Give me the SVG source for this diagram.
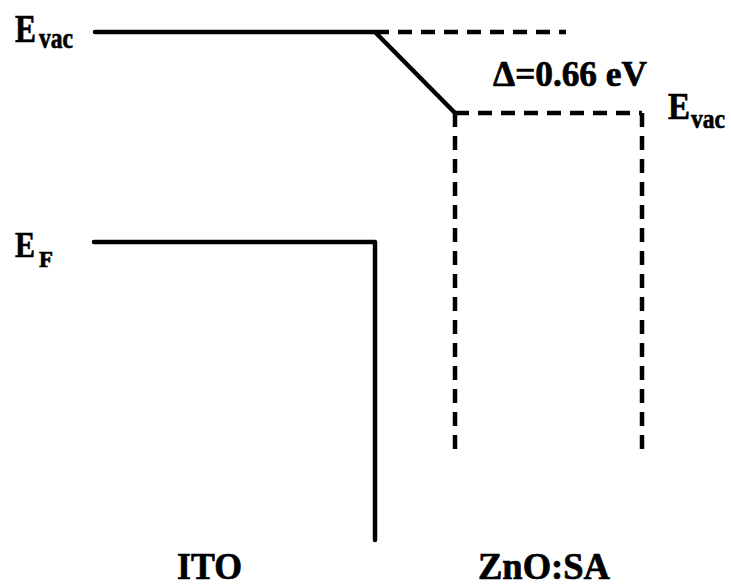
<svg xmlns="http://www.w3.org/2000/svg" width="731" height="588" viewBox="0 0 731 588">
<style>
.t{font-family:"Liberation Serif","Times New Roman",serif;font-weight:bold;fill:#000;stroke:#000;stroke-width:0.7}
.s{fill:none;stroke:#000;stroke-width:4.5;stroke-linecap:round;stroke-linejoin:round}
.d{fill:none;stroke:#000;stroke-width:4.5;stroke-dasharray:14 9}
</style>
<rect width="731" height="588" fill="#fff"/>
<g id="connectors">
<path class="s" d="M95,32 H375 L455,113"/>
<path class="d" d="M375,32 H566"/>
<path class="d" d="M455,113 H642"/>
<path class="d" d="M455,113 V457"/>
<path class="d" d="M642,113 V457"/>
<path class="s" d="M94,242 H375 V540"/>
</g>
<g id="label-evac-left">
<text class="t" x="15" y="42" font-size="39" textLength="21" lengthAdjust="spacingAndGlyphs">E</text>
<text class="t" x="39" y="48" font-size="29" textLength="34" lengthAdjust="spacingAndGlyphs">vac</text>
</g>
<g id="label-ef">
<text class="t" x="15" y="257" font-size="36" textLength="20" lengthAdjust="spacingAndGlyphs">E</text>
<text class="t" x="39" y="267" font-size="24" textLength="14" lengthAdjust="spacingAndGlyphs">F</text>
</g>
<g id="label-delta">
<text class="t" x="493" y="86" font-size="36" textLength="154" lengthAdjust="spacingAndGlyphs">Δ=0.66 eV</text>
</g>
<g id="label-evac-right">
<text class="t" x="668" y="119" font-size="37" textLength="22" lengthAdjust="spacingAndGlyphs">E</text>
<text class="t" x="691" y="128" font-size="28" textLength="34" lengthAdjust="spacingAndGlyphs">vac</text>
</g>
<g id="label-ito">
<text class="t" x="177" y="579" font-size="38" textLength="65" lengthAdjust="spacingAndGlyphs">ITO</text>
</g>
<g id="label-zno">
<text class="t" x="478" y="579" font-size="38" textLength="132" lengthAdjust="spacingAndGlyphs">ZnO:SA</text>
</g>
</svg>
